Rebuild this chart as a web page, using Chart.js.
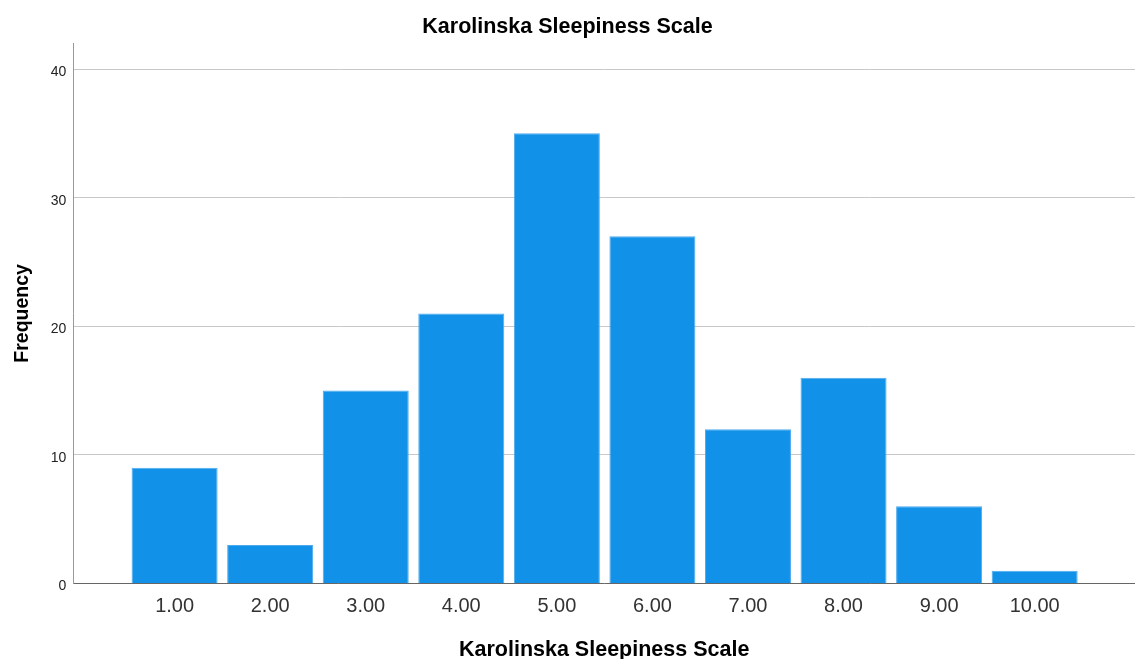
<!DOCTYPE html>
<html>
<head>
<meta charset="utf-8">
<title>Karolinska Sleepiness Scale</title>
<script src="https://cdn.jsdelivr.net/npm/chart.js@4.4.1/dist/chart.umd.min.js"></script>
<style>
  html, body { margin: 0; padding: 0; background: #fff; }
  #wrap { width: 1135px; height: 659px; }
</style>
</head>
<body>
<div id="wrap"><canvas id="myChart"></canvas></div>
<script>
// values
var categories = [1, 2, 3, 4, 5, 6, 7, 8, 9, 10];
var frequencies = [9, 3, 15, 21, 35, 27, 12, 16, 6, 1];
var tickLabels = ['1.00', '2.00', '3.00', '4.00', '5.00', '6.00', '7.00', '8.00', '9.00', '10.00'];
var yTicks = [0, 10, 20, 30, 40];

var FONT = "'Liberation Sans', Arial, sans-serif";

document.addEventListener("DOMContentLoaded", function () {
  renderChart();
});

function renderChart() {
  var points = categories.map(function (c, i) {
    return { x: c, y: frequencies[i] };
  });

  var ctx = document.getElementById('myChart').getContext('2d');
  var myChart = new Chart(ctx, {
    type: 'bar',
    data: {
      datasets: [{
        label: 'Frequency',
        data: points,
        backgroundColor: '#1192e8',
        borderColor: '#4eaaee',
        borderWidth: 1,
        barPercentage: 0.9,
        categoryPercentage: 1.0
      }]
    },
    options: {
      responsive: true,
      maintainAspectRatio: false,
      animation: false,
      layout: { padding: 0 },
      plugins: {
        legend: { display: false },
        tooltip: { enabled: false },
        title: {
          display: true,
          text: 'Karolinska Sleepiness Scale',
          color: '#000',
          font: { family: FONT, size: 21.5, weight: 'bold', lineHeight: 1.2 },
          padding: { top: 14.5, bottom: 3 }
        }
      },
      scales: {
        x: {
          type: 'linear',
          offset: false,
          min: -0.06,
          max: 11.05,
          grid: { display: false, drawTicks: false, offset: false },
          border: { display: true, color: '#666', width: 1 },
          afterBuildTicks: function (scale) {
            scale.ticks = categories.map(function (c) { return { value: c }; });
          },
          afterFit: function (scale) { scale.height = 75.5; },
          ticks: {
            padding: 11,
            color: '#333',
            font: { family: FONT, size: 20 },
            autoSkip: false,
            maxRotation: 0,
            callback: function (value) {
              var i = categories.indexOf(value);
              return i >= 0 ? tickLabels[i] : '';
            }
          },
          title: {
            display: true,
            text: 'Karolinska Sleepiness Scale',
            color: '#000',
            font: { family: FONT, size: 21.5, weight: 'bold', lineHeight: 0.8 },
            padding: { top: 13, bottom: 0 }
          }
        },
        y: {
          min: 0,
          max: 42,
          grid: { color: '#c8c8c8', lineWidth: 1, drawTicks: false },
          border: { display: true, color: '#999', width: 1 },
          afterBuildTicks: function (scale) {
            scale.ticks = yTicks.map(function (v) { return { value: v }; });
          },
          afterFit: function (scale) { scale.width = 73.3; },
          ticks: {
            padding: 7,
            labelOffset: 3,
            color: '#222',
            font: { family: FONT, size: 14 }
          },
          title: {
            display: true,
            text: 'Frequency',
            color: '#000',
            font: { family: FONT, size: 19.5, weight: 'bold', lineHeight: 1.2 },
            padding: { top: 11, bottom: 0 }
          }
        }
      }
    }
  });
}
</script>
</body>
</html>
